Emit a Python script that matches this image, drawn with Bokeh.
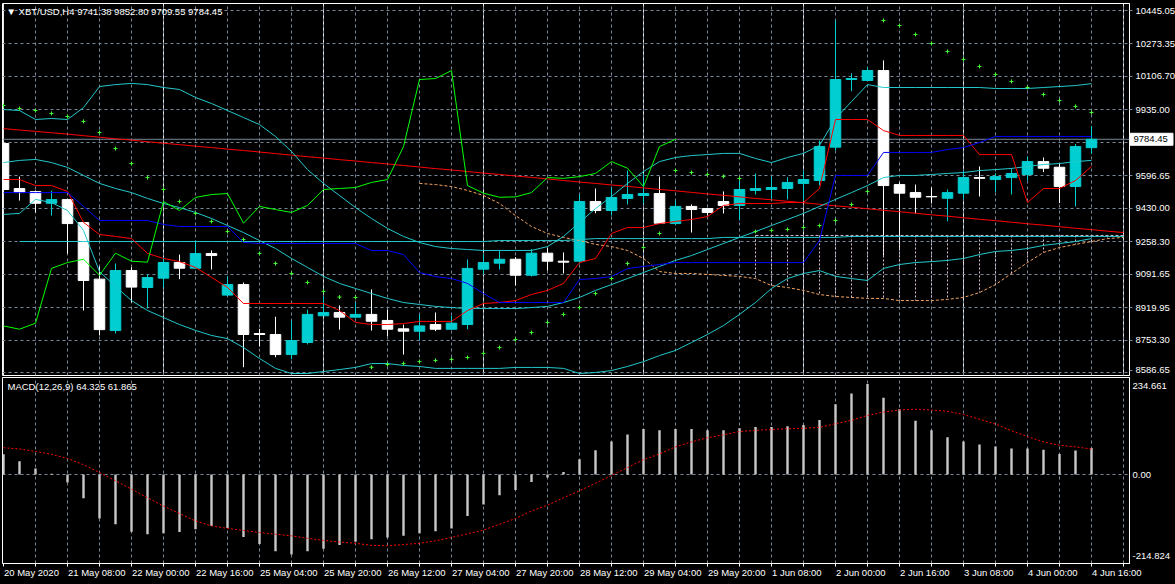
from bokeh.plotting import figure
from bokeh.models import Range1d, FixedTicker, Label, Grid, ColumnDataSource
from bokeh.layouts import column
from bokeh.embed import file_html
from bokeh.resources import INLINE
from bokeh.core.properties import value

# ---------------- data (XBT/USD H4) ----------------
bars = list(range(69))
opens = [9763, 9532, 9516, 9456, 9475, 9357, 9067, 8803, 9111, 9024,
         9072, 9152, 9123, 9198, 8985, 9039, 8788, 8783, 8680, 8742,
         8879, 8896, 8872, 8886, 8855, 8812, 8800, 8834, 8810, 8834,
         9118, 9149, 9169, 9087, 9200, 9159, 9159, 9465, 9419, 9481,
         9496, 9506, 9352, 9440, 9429, 9465, 9445, 9522, 9527, 9532,
         9558, 9573, 9744, 10091, 10086, 10137, 9552, 9511, 9491, 9482,
         9508, 9588, 9578, 9588, 9604, 9670, 9641, 9542, 9741.38]
highs = [9770, 9593, 9522, 9521, 9480, 9360, 9132, 9147, 9128, 9091,
         9180, 9193, 9265, 9214, 9082, 9050, 8812, 8874, 8853, 8910,
         8978, 8932, 8947, 9014, 8911, 8834, 8886, 8896, 8880, 9168,
         9193, 9214, 9180, 9222, 9226, 9204, 9501, 9532, 9537, 9624,
         9609, 9593, 9470, 9450, 9432, 9517, 9573, 9609, 9593, 9590,
         9624, 9778, 10394, 10123, 10154, 10189, 9563, 9552, 9537, 9527,
         9624, 9645, 9610, 9635, 9696, 9691, 9662, 9760, 9852.80]
lows = [9510, 9470, 9409, 9393, 9198, 8906, 8778, 8788, 8948, 8916,
        9024, 9067, 9121, 9116, 8982, 8615, 8721, 8666, 8656, 8732,
        8879, 8808, 8868, 8803, 8773, 8680, 8752, 8800, 8806, 8810,
        9096, 9116, 9034, 9080, 9111, 9096, 9147, 9405, 9393, 9450,
        9455, 9354, 9347, 9306, 9393, 9404, 9368, 9501, 9470, 9476,
        9470, 9547, 9727, 10031, 10086, 9188, 9214, 9404, 9455, 9364,
        9476, 9491, 9513, 9501, 9573, 9616, 9457, 9440, 9709.55]
closes = [9527, 9511, 9456, 9475, 9352, 9060, 8808, 9111, 9026, 9075,
          9152, 9123, 9198, 9188, 9039, 8783, 8783, 8680, 8752, 8886,
          8896, 8872, 8886, 8851, 8810, 8800, 8827, 8810, 8841, 9122,
          9152, 9169, 9087, 9200, 9159, 9154, 9465, 9419, 9486, 9501,
          9506, 9354, 9440, 9424, 9409, 9445, 9527, 9532, 9537, 9563,
          9578, 9747, 10091, 10096, 10137, 9547, 9508, 9487, 9489, 9511,
          9588, 9584, 9593, 9609, 9670, 9636, 9542, 9747, 9784.45]

tenkan = [9578, 9578, 9547, 9547, 9517, 9358, 9296, 9286, 9275, 9199,
          9173, 9157, 9127, 9076, 9024, 8942, 8942, 8942, 8942, 8942,
          8942, 8906, 8845, 8834, 8834, 8839, 8850, 8850, 8850, 8906,
          8942, 8947, 8957, 8988, 9009, 9045, 9152, 9173, 9301, 9332,
          9332, 9352, 9363, 9373, 9388, 9445, 9455, 9455, 9455, 9460,
          9460, 9532, 9886, 9886, 9886, 9829, 9804, 9804, 9804, 9804,
          9804, 9706, 9706, 9706, 9460, 9532, 9532, 9573, 9645]
kijun = [9511, 9511, 9511, 9511, 9511, 9440, 9368, 9368, 9368, 9368,
         9347, 9337, 9337, 9337, 9337, 9255, 9250, 9250, 9250, 9250,
         9250, 9250, 9250, 9214, 9214, 9193, 9101, 9080, 9070, 9045,
         8993, 8947, 8947, 8947, 8947, 8947, 9065, 9070, 9080, 9121,
         9132, 9142, 9152, 9152, 9152, 9152, 9152, 9152, 9152, 9152,
         9152, 9265, 9599, 9599, 9599, 9717, 9717, 9717, 9717, 9732,
         9742, 9768, 9799, 9799, 9799, 9799, 9799, 9799, 9799]
chikou_shift = 26
senkou_a_bars = list(range(26, 71))
senkou_a = [9558, 9552, 9542, 9522, 9496, 9455, 9393, 9337, 9301, 9281,
            9265, 9245, 9234, 9214, 9173, 9106, 9096, 9096, 9091, 9086,
            9081, 9070, 9034, 9024, 9009, 8988, 8978, 8973, 8968, 8968,
            8957, 8957, 8957, 8963, 8973, 8998, 9039, 9096, 9152, 9204,
            9229, 9245, 9260, 9275, 9281]
senkou_b_bars = list(range(47, 71))
senkou_b = [9291, 9291, 9291, 9291, 9291, 9291, 9291, 9291, 9291, 9291,
            9291, 9291, 9291, 9291, 9291, 9291, 9291, 9291, 9291, 9291,
            9291, 9291, 9291, 9291]

sar = [9958, 9942, 9932, 9917, 9901, 9876, 9819, 9737, 9660, 9588,
       9527, 9465, 9404, 9363, 9311, 9270, 9199, 9147, 9096, 9050,
       9004, 8975, 8973, 8615, 8629, 8634, 8644, 8650, 8655, 8665,
       8686, 8716, 8757, 8793, 8845, 8886, 8921, 8993, 9070, 9147,
       9229, 9301, 9624, 9614, 9604, 9594, 9583, 9311, 9317, 9322,
       9332, 9342, 9368, 9450, 9517, 10394, 10368, 10322, 10276, 10235,
       10194, 10158, 10117, 10081, 10050, 10014, 9983, 9953, 9922]

bb_upper = [9937, 9932, 9886, 9891, 9886, 9947, 10055, 10065, 10071, 10065,
            10050, 10040, 9999, 9968, 9932, 9896, 9860, 9799, 9722, 9629,
            9558, 9496, 9434, 9378, 9327, 9286, 9255, 9234, 9224, 9219,
            9214, 9214, 9214, 9214, 9234, 9286, 9358, 9429, 9491, 9558,
            9619, 9670, 9691, 9701, 9706, 9712, 9712, 9686, 9665, 9691,
            9712, 9753, 9891, 9978, 10065, 10050, 10050, 10050, 10050, 10050,
            10050, 10050, 10045, 10045, 10045, 10050, 10055, 10060, 10070]
bb_middle = [9665, 9676, 9681, 9665, 9640, 9599, 9558, 9532, 9511, 9481,
             9455, 9434, 9409, 9378, 9342, 9306, 9265, 9224, 9173, 9127,
             9081, 9045, 9019, 8993, 8968, 8947, 8937, 8927, 8921, 8916,
             8916, 8916, 8916, 8921, 8927, 8947, 8973, 9009, 9039, 9070,
             9101, 9132, 9163, 9188, 9219, 9250, 9281, 9311, 9342, 9373,
             9404, 9440, 9476, 9511, 9547, 9588, 9599, 9599, 9604, 9609,
             9614, 9624, 9629, 9635, 9645, 9655, 9660, 9670, 9676]
bb_lower = [9399, 9404, 9476, 9460, 9419, 9317, 9106, 9029, 8957, 8906,
            8870, 8834, 8804, 8778, 8762, 8716, 8660, 8609, 8583, 8583,
            8593, 8603, 8614, 8634, 8634, 8624, 8619, 8609, 8609, 8609,
            8609, 8609, 8614, 8614, 8614, 8609, 8583, 8588, 8598, 8619,
            8644, 8675, 8701, 8742, 8783, 8829, 8886, 8947, 9019, 9070,
            9096, 9111, 9081, 9070, 9060, 9122, 9142, 9152, 9157, 9163,
            9173, 9193, 9209, 9214, 9224, 9240, 9250, 9260, 9275]

ma_red_bars = list(range(0, 71))
ma_red = [9839, 9832, 9825, 9818, 9811, 9803, 9795, 9787, 9780, 9772,
          9764, 9757, 9749, 9742, 9734, 9727, 9719, 9711, 9703, 9695,
          9688, 9680, 9673, 9665, 9658, 9650, 9642, 9634, 9627, 9619,
          9611, 9604, 9596, 9589, 9581, 9573, 9565, 9558, 9550, 9543,
          9535, 9527, 9520, 9512, 9504, 9497, 9489, 9481, 9474, 9466,
          9459, 9451, 9443, 9436, 9428, 9420, 9413, 9405, 9397, 9390,
          9382, 9374, 9367, 9359, 9351, 9344, 9336, 9328, 9321, 9313, 9306]
ma_cyan_bars = list(range(1, 71))
ma_cyan = [9260, 9260, 9260, 9260, 9260, 9260, 9260, 9260, 9260, 9260,
           9260, 9260, 9260, 9260, 9260, 9260, 9260, 9260, 9260, 9260,
           9260, 9260, 9260, 9260, 9260, 9260, 9260, 9260, 9260, 9260,
           9265, 9265, 9265, 9265, 9265, 9270, 9275, 9275, 9275, 9275,
           9275, 9275, 9275, 9275, 9281, 9281, 9281, 9281, 9281, 9281,
           9281, 9281, 9286, 9286, 9286, 9286, 9286, 9286, 9286, 9286,
           9286, 9286, 9286, 9286, 9286, 9286, 9286, 9286, 9286, 9286]

macd_hist = [49, 32, 15, 2, -19, -57, -106, -120, -138, -144,
             -142, -139, -132, -124, -129, -151, -168, -185, -193, -185,
             -179, -170, -162, -156, -152, -148, -142, -137, -130, -100,
             -72, -50, -37, -18, -7, 6, 37, 59, 80, 97,
             110, 107, 110, 110, 107, 107, 112, 115, 115, 117,
             120, 132, 170, 196, 219, 186, 158, 130, 107, 90,
             80, 73, 68, 63, 63, 60, 50, 58, 64.325]
macd_signal = [65, 62, 56, 49, 39, 24, 5, -15, -35, -56,
               -76, -94, -112, -124, -130, -135, -140, -144, -148, -154,
               -159, -163, -166, -171, -172, -169, -166, -160, -152, -143,
               -134, -120, -106, -88, -74, -56, -39, -21, -2, 17,
               36, 50, 67, 79, 89, 96, 104, 107, 109, 111,
               112, 114, 123, 131, 143, 151, 156, 158, 156, 153,
               145, 134, 122, 106, 92, 79, 71, 67, 61.865]

price_ticks = [10445.05, 10273.35, 10106.70, 9935.00, 9784.45, 9596.65, 9430.00,
               9258.30, 9091.65, 8919.95, 8753.30, 8600.00]
price_labels = ["10445.05", "10273.35", "10106.70", "9935.00", "9784.45", "9596.65",
                "9430.00", "9258.30", "9091.65", "8919.95", "8753.30", "8586.65"]
price_grid = [10445.05, 10273.35, 10106.70, 9935.00, 9766.00, 9596.65, 9430.00,
              9258.30, 9091.65, 8919.95, 8753.30, 8586.65]
macd_ticks = [215.3, 0.0, -197.9]
macd_labels = ["234.661", "0.00", "-214.824"]
time_ticks = [0, 4, 8, 12, 16, 20, 24, 28, 32, 36, 40, 44, 48, 52, 56, 60, 64, 68]
time_labels = ["20 May 2020", "21 May 08:00", "22 May 00:00", "22 May 16:00",
               "25 May 04:00", "25 May 20:00", "26 May 12:00", "27 May 04:00",
               "27 May 20:00", "28 May 12:00", "29 May 04:00", "29 May 20:00",
               "1 Jun 08:00", "2 Jun 00:00", "2 Jun 16:00", "3 Jun 08:00",
               "4 Jun 00:00", "4 Jun 16:00"]
bid_price = 9784.45
bid_text = "9784.45"
title_text = "\u25bc XBT/USD,H4  9741.38 9852.80 9709.55 9784.45"
macd_text = "MACD(12,26,9) 64.325 61.865"

# ---------------- styles ----------------
FONT = "Liberation Sans"
FS = "9.5px"
FS_PX = 9.5
GRID = "#778899"
CYAN = "#00CED1"
LINE_CYAN = "#22C8CC"
PX_PER_BAR = 16.0
X_START = -0.0625
X_END = 70.375

# Arial / Liberation Sans advance widths (per 1000 em) for left-aligning time labels
ADV = {" ": 278, ":": 278, ".": 278, "M": 833, "J": 500, "a": 556, "y": 500,
       "u": 556, "n": 556}
def text_px(s):
    return sum(ADV.get(ch, 556) for ch in s) * FS_PX / 1000.0
# each label is centred so that its left edge sits just right of its bar
label_pos = [t + (0.5 + text_px(s) / 2.0) / PX_PER_BAR for t, s in zip(time_ticks, time_labels)]

x_range = Range1d(X_START, X_END)

main = figure(frame_width=1127, frame_height=372, x_range=x_range,
              y_range=Range1d(8572.6, 10481.0), output_backend="svg",
              toolbar_location=None, x_axis_location=None, y_axis_location="right",
              background_fill_color="black", border_fill_color="black",
              min_border_left=2, min_border_right=46, min_border_top=3,
              min_border_bottom=1, outline_line_color="white", outline_line_width=1)

def style_yaxis(ax, ticks, labels):
    ax.ticker = FixedTicker(ticks=ticks)
    ax.major_label_overrides = {t: l for t, l in zip(ticks, labels)}
    ax.major_label_text_color = "white"
    ax.major_label_text_font = FONT
    ax.major_label_text_font_size = FS
    ax.major_tick_out = 3
    ax.major_tick_in = 0
    ax.major_tick_line_color = GRID
    ax.minor_tick_out = 0
    ax.minor_tick_in = 0
    ax.axis_line_color = "white"
    ax.major_label_standoff = 3

style_yaxis(main.yaxis[0], price_ticks, price_labels)
main.ygrid.ticker = FixedTicker(ticks=price_grid)
main.ygrid.grid_line_color = GRID
main.ygrid.grid_line_dash = "3 3"
xg = Grid(dimension=0, ticker=FixedTicker(ticks=list(range(2, 71, 2))),
          grid_line_color=GRID, grid_line_dash="3 3")
main.add_layout(xg)

# current price line
main.line([X_START, X_END], [bid_price, bid_price], line_color=GRID, line_width=1)

# candles
up = [i for i in bars if closes[i] >= opens[i]]
dn = [i for i in bars if closes[i] < opens[i]]
for idx, col in ((up, CYAN), (dn, "white")):
    src = ColumnDataSource(dict(
        x=[bars[i] for i in idx],
        hi=[highs[i] for i in idx], lo=[lows[i] for i in idx],
        top=[max(opens[i], closes[i]) for i in idx],
        bot=[min(opens[i], closes[i]) for i in idx]))
    main.segment(x0="x", y0="lo", x1="x", y1="hi", source=src, line_color=col, line_width=1)
    main.vbar(x="x", width=0.66, top="top", bottom="bot", source=src,
              fill_color=col, line_color=col, line_width=1)

# Ichimoku cloud hatch (thistle dotted verticals)
hatch_a = [senkou_a[senkou_a_bars.index(b)] for b in senkou_b_bars]
main.segment(x0=senkou_b_bars, y0=senkou_b, x1=senkou_b_bars, y1=hatch_a,
             line_color="#D8BFD8", line_dash="2 2", line_width=1)
main.line(senkou_a_bars, senkou_a, line_color="#F4A460", line_dash="3 2", line_width=1)
main.line(senkou_b_bars, senkou_b, line_color="#D8BFD8", line_dash="3 2", line_width=1)

# moving averages
main.line(ma_red_bars, ma_red, line_color="#FF0000", line_width=1)
main.line(ma_cyan_bars, ma_cyan, line_color=LINE_CYAN, line_width=1)

# Bollinger bands
for band in (bb_upper, bb_middle, bb_lower):
    main.line(bars, band, line_color=LINE_CYAN, line_width=1)

# Ichimoku lines
main.line(bars, tenkan, line_color="#FF0000", line_width=1)
main.line(bars, kijun, line_color="#0000FF", line_width=1)
chikou_bars = bars[:len(bars) - chikou_shift]
chikou = closes[chikou_shift:]
main.line(chikou_bars, chikou, line_color="#00FF00", line_width=1)

# Parabolic SAR
main.scatter(bars, sar, marker="cross", size=4, line_color="#44FF33", line_width=1)

main.add_layout(Label(x=X_START, y=10481.0, x_offset=4, y_offset=-2, text=title_text,
                      text_color="white", text_font=FONT, text_font_size=FS,
                      text_baseline="top", text_align="left"))

# bid price box on the price scale
bid_box_x = X_END + 22.0 / PX_PER_BAR
main.rect(x=[bid_box_x], y=[bid_price], width=43, height=12, width_units="screen",
          height_units="screen", fill_color="white", line_color="white", level="overlay")
main.text(x=[X_END], y=[bid_price], text=[bid_text], x_offset=4, text_color="black",
          text_font=value(FONT), text_font_size=FS, text_baseline="middle",
          text_align="left", level="overlay")

# ---------------- MACD panel ----------------
macd = figure(frame_width=1127, frame_height=186, x_range=x_range,
              y_range=Range1d(-214.824, 234.661), output_backend="svg",
              toolbar_location=None, y_axis_location="right", x_axis_location="below",
              background_fill_color="black", border_fill_color="black",
              min_border_left=2, min_border_right=46, min_border_top=1,
              min_border_bottom=21, outline_line_color="white", outline_line_width=1)
style_yaxis(macd.yaxis[0], macd_ticks, macd_labels)
macd.yaxis[0].major_tick_out = 0
macd.ygrid.ticker = FixedTicker(ticks=[0])
macd.ygrid.grid_line_color = GRID
macd.ygrid.grid_line_dash = "3 3"
macd.xgrid.ticker = FixedTicker(ticks=list(range(2, 71, 2)))
macd.xgrid.grid_line_color = GRID
macd.xgrid.grid_line_dash = "3 3"

xa = macd.xaxis[0]
xa.ticker = FixedTicker(ticks=label_pos, minor_ticks=list(range(0, 71, 2)))
xa.major_label_overrides = {t: l for t, l in zip(label_pos, time_labels)}
xa.major_label_text_color = "white"
xa.major_label_text_font = FONT
xa.major_label_text_font_size = FS
xa.major_tick_out = 0
xa.major_tick_in = 0
xa.minor_tick_out = 3
xa.minor_tick_in = 0
xa.minor_tick_line_color = "white"
xa.axis_line_color = "white"
xa.major_label_standoff = 0

macd.vbar(x=bars, top=macd_hist, bottom=0, width=0.15, fill_color="#C8C8C8",
          line_color="#C8C8C8", line_width=0)
macd.line(bars, macd_signal, line_color="#FF0000", line_dash="2 2", line_width=1)
macd.add_layout(Label(x=X_START, y=234.661, x_offset=5, y_offset=-3, text=macd_text,
                      text_color="white", text_font=FONT, text_font_size=FS,
                      text_baseline="top", text_align="left"))

layout = column(main, macd, spacing=0, background="black")
open("out.html", "w").write(file_html(layout, INLINE))
